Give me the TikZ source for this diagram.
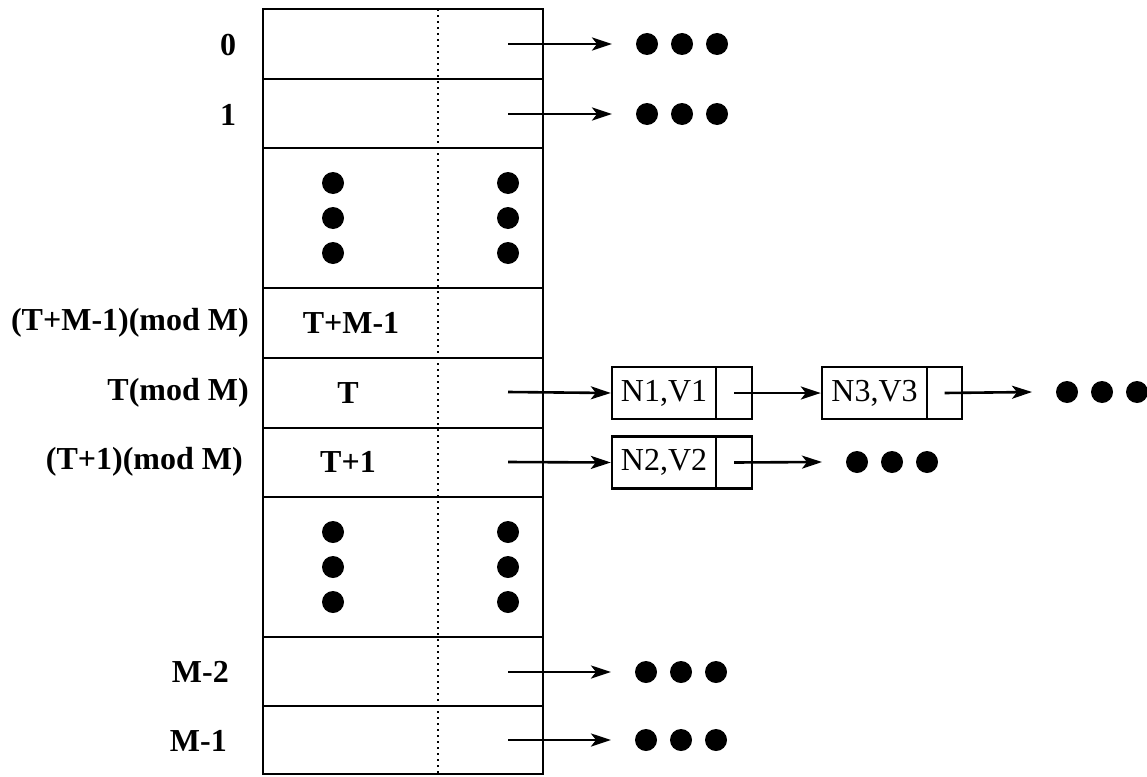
\documentclass[tikz,border=0pt]{standalone}
\usepackage{fontspec}
\setmainfont{Liberation Serif}
\usetikzlibrary{arrows.meta}
\begin{document}
\begin{tikzpicture}[x=1pt,y=-1pt,
  cell/.style={draw, line width=2.8pt, minimum width=280pt, inner sep=0pt},
  lbl/.style={font=\fontsize{32}{36}\selectfont\bfseries, inner sep=0pt},
  lbox/.style={draw, line width=2.4pt, minimum height=52pt, inner sep=0pt, font=\fontsize{32}{36}\selectfont},
  arr/.style={line width=2.6pt, -{Stealth[length=20pt,width=13pt,inset=5pt]}},
  dotline/.style={line width=2.2pt, dash pattern=on 2.2pt off 3.8pt},
  dotsh/.style={minimum width=94pt, minimum height=24pt, inner sep=0pt, outer xsep=23pt, outer ysep=0pt,
    path picture={\foreach \k in {-35,0,35} \fill ([xshift=\k pt]path picture bounding box.center) circle (11pt);}},
  dotsv/.style={minimum width=24pt, minimum height=94pt, inner sep=0pt, outer sep=0pt,
    path picture={\foreach \k in {-35,0,35} \fill ([yshift=\k pt]path picture bounding box.center) circle (11pt);}}
]
\useasboundingbox (0,0) rectangle (1147,776);
% table rows
\node[cell, minimum height=70pt] (r0) at (403,44) {};
\node[cell, minimum height=69pt] (r1) at (403,113.5) {};
\node[cell, minimum height=140pt] (rd1) at (403,218) {};
\node[cell, minimum height=70pt] (rtm) at (403,323) {};
\node[cell, minimum height=70pt] (rt) at (403,393) {};
\node[cell, minimum height=69pt] (rt1) at (403,462.5) {};
\node[cell, minimum height=140pt] (rd2) at (403,567) {};
\node[cell, minimum height=69pt] (rm2) at (403,671.5) {};
\node[cell, minimum height=68pt] (rm1) at (403,740) {};
% dotted divider
\coordinate (dtop) at (438,9);
\coordinate (dbot) at (438,774);
\draw[dotline] (dtop) -- (dbot);
% vertical dots in table
\node[dotsv] (vd1a) at (333,218) {};
\node[dotsv] (vd1b) at (508,218) {};
\node[dotsv] (vd2a) at (333,567) {};
\node[dotsv] (vd2b) at (508,567) {};
% left labels
\node[lbl] (l0) at (228,45) {0};
\node[lbl] (l1) at (228,115) {1};
\node[lbl, anchor=east] (ltm) at (249,323) {(T+M-1)(mod M)};
\node[lbl, anchor=east] (lt) at (249,393) {T(mod M)};
\node[lbl, anchor=east] (lt1) at (243,462) {(T+1)(mod M)};
\node[lbl, anchor=east] (lm2) at (229,672) {M-2};
\node[lbl, anchor=east] (lm1) at (227,741) {M-1};
% cell texts
\node[lbl] (ctm) at (351,323) {T+M-1};
\node[lbl] (ct) at (348,393) {T};
\node[lbl] (ct1) at (348,462) {T+1};
% arrow starts
\coordinate (s0) at (508,44);
\coordinate (s1) at (508,114);
\coordinate (st) at (508,392);
\coordinate (st1) at (508,462);
\coordinate (sm2) at (508,672);
\coordinate (sm1) at (508,740);
% dots groups
\node[dotsh] (d0) at (682,44) {};
\node[dotsh] (d1) at (682,114) {};
\node[dotsh] (dm2) at (681,672) {};
\node[dotsh] (dm1) at (681,740) {};
\node[dotsh] (dt) at (1102,392) {};
\node[dotsh] (dt1) at (892,462) {};
% list boxes
\node[lbox, minimum width=104pt] (n1) at (664,393) {N1,V1};
\node[lbox, minimum width=36pt] (n1p) at (734,393) {};
\node[lbox, minimum width=104pt] (n2) at (664,462.5) {N2,V2};
\node[lbox, minimum width=36pt] (n2p) at (734,462.5) {};
\node[lbox, minimum width=105pt] (n3) at (874.5,393) {N3,V3};
\node[lbox, minimum width=35pt] (n3p) at (944.5,393) {};
% arrows
\draw[arr] (s0) -- (d0.west);
\draw[arr] (s1) -- (d1.west);
\draw[arr] (sm2) -- (dm2.west);
\draw[arr] (sm1) -- (dm1.west);
\draw[arr] (st) -- (n1.west);
\draw[arr] (st1) -- (n2.west);
\draw[arr] (n1p.center) -- (n3.west);
\draw[arr] (n3p.center) -- (dt.west);
\draw[arr] (n2p.center) -- (dt1.west);
\end{tikzpicture}
\end{document}
